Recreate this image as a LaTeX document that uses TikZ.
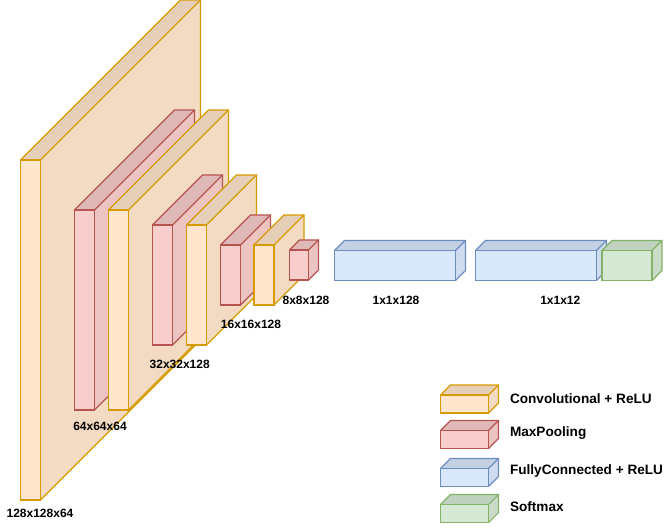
\documentclass[tikz,border=0pt]{standalone}
\usepackage{fontspec}
\setmainfont{Liberation Sans}

\definecolor{convfill}{HTML}{FFE6CC}
\definecolor{convside}{HTML}{F2DBC2}
\definecolor{convtop}{HTML}{E6CFB8}
\definecolor{convline}{HTML}{D79B00}
\definecolor{poolfill}{HTML}{F8CECC}
\definecolor{poolside}{HTML}{ECC4C2}
\definecolor{pooltop}{HTML}{DFB9B8}
\definecolor{poolline}{HTML}{B85450}
\definecolor{fcfill}{HTML}{DAE8FC}
\definecolor{fcside}{HTML}{CFDCEF}
\definecolor{fctop}{HTML}{C4D1E3}
\definecolor{fcline}{HTML}{6C8EBF}
\definecolor{smfill}{HTML}{D5E8D4}
\definecolor{smside}{HTML}{CADCC9}
\definecolor{smtop}{HTML}{C0D1BF}
\definecolor{smline}{HTML}{82B366}

% layer block: front-left x, front-top y, width, height, depth, kind
\newcommand{\layerbox}[6]{%
  \fill[#6top] (#1,#2) -- ++(#5,-#5) -- ++(#3,0) -- ++(-#5,#5) -- cycle;
  \fill[#6side] (#1+#3,#2) -- ++(#5,-#5) -- ++(0,#4) -- ++(-#5,#5) -- cycle;
  \filldraw[fill=#6fill, draw=#6line] (#1,#2) rectangle ++(#3,#4);
  \draw[#6line] (#1,#2) -- ++(#5,-#5) -- ++(#3,0) -- ++(0,#4) -- ++(-#5,#5);
  \draw[#6line] (#1+#3,#2) -- ++(#5,-#5);
}

\begin{document}
\begin{tikzpicture}[x=0.75pt, y=-0.75pt, line width=0.8pt,
    lbl/.style={font=\bfseries\fontsize{9}{10}\selectfont, inner sep=0pt},
    key/.style={font=\bfseries\fontsize{10.2}{12}\selectfont, inner sep=0pt, anchor=west}]
    \useasboundingbox (0,0) rectangle (672,531);

    % feature maps
    \layerbox{20.5}{160}{20}{340}{160}{conv}
    \layerbox{74.5}{210}{20}{200}{100}{pool}
    \layerbox{108.5}{210}{20}{200}{100}{conv}
    \layerbox{152.5}{225}{20}{120}{50}{pool}
    \layerbox{186.5}{225}{20}{120}{50}{conv}
    \layerbox{220.5}{245}{20}{60}{30}{pool}
    \layerbox{254}{245}{20}{60}{30}{conv}
    \layerbox{289.5}{250}{19}{30}{10}{pool}

    % dense layers
    \layerbox{334.5}{250.5}{121}{30}{10}{fc}
    \layerbox{475.5}{250.5}{121}{30}{10}{fc}
    \layerbox{602}{250.5}{50}{30}{10}{sm}

    % sizes
    \node[lbl] (s1) at (40,513.5) {128x128x64};
    \node[lbl] (s2) at (100,426) {64x64x64};
    \node[lbl] (s3) at (179.7,364.5) {32x32x128};
    \node[lbl] (s4) at (251,324) {16x16x128};
    \node[lbl] (s5) at (306,300.5) {8x8x128};
    \node[lbl] (s6) at (396,300.5) {1x1x128};
    \node[lbl] (s7) at (560.3,300.5) {1x1x12};

    % legend
    \layerbox{440.5}{395}{48}{18}{10}{conv}
    \layerbox{440.5}{430.5}{48}{18}{10}{pool}
    \layerbox{440.5}{468.5}{48}{18}{10}{fc}
    \layerbox{440.5}{504.5}{48}{18}{10}{sm}
    \node[key] (k1) at (509.5,398.3) {Convolutional + ReLU};
    \node[key] (k2) at (509.5,432.7) {MaxPooling};
    \node[key] (k3) at (509.5,470.7) {FullyConnected + ReLU};
    \node[key] (k4) at (509.5,506.7) {Softmax};
\end{tikzpicture}
\end{document}
